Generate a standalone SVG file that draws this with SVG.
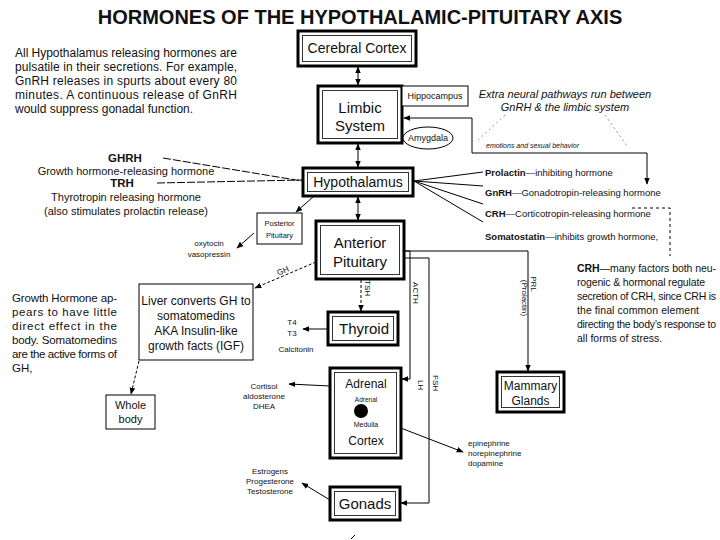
<svg xmlns="http://www.w3.org/2000/svg" width="720" height="540" viewBox="0 0 720 540">
<defs>
<marker id="ah" viewBox="0 0 10 10" refX="9" refY="5" markerWidth="7" markerHeight="7" markerUnits="userSpaceOnUse" orient="auto-start-reverse"><path d="M0,1 L10,5 L0,9 z" fill="#000"/></marker>
<style>
text{font-family:"Liberation Sans",Arial,sans-serif;fill:#111}
.b{font-weight:bold}
.it{font-style:italic}
.m{text-anchor:middle}
.o{fill:#fff;stroke:#000;stroke-width:3}
.i{fill:none;stroke:#333;stroke-width:1}
.s{fill:#fff;stroke:#000;stroke-width:1}
.c{fill:none;stroke:#000;stroke-width:1}
.d{fill:none;stroke:#000;stroke-width:1;stroke-dasharray:3 2}
.dt{fill:none;stroke:#777;stroke-width:0.8;stroke-dasharray:2 3}
.rl{text-anchor:middle;dominant-baseline:central;font-size:8px}
</style>
</defs>
<rect width="720" height="540" fill="#fff"/>
<text x="360" y="24" class="b m" font-size="20">HORMONES OF THE HYPOTHALAMIC-PITUITARY AXIS</text>

<g id="intro" font-size="12">
<text x="15" y="57" font-size="12" textLength="222" lengthAdjust="spacing">All Hypothalamus releasing hormones are</text>
<text x="15" y="71" font-size="12" textLength="222" lengthAdjust="spacing">pulsatile in their secretions.  For example,</text>
<text x="15" y="85" font-size="12" textLength="222" lengthAdjust="spacing">GnRH releases in spurts about every 80</text>
<text x="15" y="99" font-size="12" textLength="222" lengthAdjust="spacing">minutes.  A continuous release of GnRH</text>
<text x="15" y="113" font-size="12">would suppress gonadal function.</text>
</g>

<g id="connectors">
<line x1="358" y1="67" x2="358" y2="85" class="c" marker-start="url(#ah)" marker-end="url(#ah)"/>
<line x1="358" y1="144" x2="358" y2="167" class="c" marker-start="url(#ah)" marker-end="url(#ah)"/>
<line x1="358" y1="197" x2="358" y2="220" class="c" marker-start="url(#ah)" marker-end="url(#ah)"/>
<path d="M647,184 V153 H472 V118 H404" class="c" marker-start="url(#ah)" marker-end="url(#ah)"/>
<line x1="505" y1="115" x2="476" y2="142" class="dt"/>
<line x1="605" y1="115" x2="627" y2="146" class="dt"/>
<line x1="163" y1="158" x2="302" y2="181" class="c" stroke-dasharray="8 2"/>
<line x1="157" y1="183" x2="302" y2="180" class="c" stroke-dasharray="8 2"/>
<line x1="414" y1="181" x2="483" y2="172" class="c"/>
<line x1="414" y1="181" x2="483" y2="186" class="c"/>
<line x1="414" y1="181" x2="483" y2="204" class="c"/>
<line x1="414" y1="181" x2="483" y2="222" class="c"/>
<path d="M632,208 H670 V256" class="c" stroke-dasharray="3 3"/>
<line x1="313" y1="197" x2="296" y2="212" class="c" marker-end="url(#ah)"/>
<line x1="254" y1="233" x2="237" y2="248" class="c" marker-end="url(#ah)"/>
<line x1="316" y1="262" x2="255" y2="288" class="d" marker-end="url(#ah)"/>
<line x1="139" y1="361" x2="131" y2="394" class="d" marker-end="url(#ah)"/>
<line x1="361" y1="280" x2="361" y2="311" class="d" marker-end="url(#ah)"/>
<line x1="328" y1="329" x2="303" y2="329" class="c" marker-end="url(#ah)"/>
<path d="M405,251 H410 V379 H402" class="c" marker-end="url(#ah)"/>
<path d="M405,251 H528 V371" class="c" marker-end="url(#ah)"/>
<path d="M405,258 H429 V503 H401" class="c" marker-end="url(#ah)"/>
<line x1="330" y1="386" x2="289" y2="384" class="c" marker-end="url(#ah)"/>
<line x1="367" y1="415" x2="463" y2="452" class="c" marker-end="url(#ah)"/>
<line x1="330" y1="500" x2="302" y2="483" class="c" marker-end="url(#ah)"/>
<line x1="351" y1="539" x2="355" y2="535" class="c" stroke="#888"/>
<text transform="translate(283,271) rotate(-25)" class="rl">GH</text>
<text transform="translate(367,288) rotate(90)" class="rl">TSH</text>
<text transform="translate(415,293) rotate(90)" class="rl">ACTH</text>
<text transform="translate(420,385) rotate(90)" class="rl">LH</text>
<text transform="translate(435,383) rotate(90)" class="rl">FSH</text>
<text transform="translate(533,284) rotate(90)" class="rl" font-size="7">PRL</text>
<text transform="translate(524,298) rotate(90)" class="rl" font-size="7">(Prolactin)</text>
</g>

<g id="cerebral-cortex">
<rect x="298" y="31" width="118" height="35" class="o"/>
<rect x="302.5" y="35.5" width="109" height="26" class="i"/>
<text x="357" y="53" class="m" font-size="14">Cerebral Cortex</text>
</g>

<g id="limbic-system">
<rect x="318" y="86" width="84" height="57" class="o"/>
<rect x="322.5" y="90.5" width="75" height="48" class="i"/>
<text x="360" y="113" class="m" font-size="15">Limbic</text>
<text x="360" y="131" class="m" font-size="15">System</text>
</g>

<g id="hippocampus">
<rect x="402" y="86" width="66" height="20" class="s"/>
<text x="435" y="99" class="m" font-size="9">Hippocampus</text>
</g>

<g id="amygdala">
<ellipse cx="428" cy="138" rx="25" ry="11" class="s"/>
<text x="428" y="141" class="m" font-size="9">Amygdala</text>
</g>

<g id="extra-neural">
<text x="565" y="98" class="m it" font-size="11">Extra neural pathways run between</text>
<text x="565" y="111" class="m it" font-size="11">GnRH &amp; the limbic system</text>
<text x="486" y="148" class="it" font-size="7">emotions and sexual behavior</text>
</g>

<g id="hypothalamus">
<rect x="303" y="168" width="110" height="28" class="o"/>
<rect x="307.5" y="172.5" width="101" height="19" class="i"/>
<text x="358" y="187" class="m" font-size="14">Hypothalamus</text>
</g>

<g id="ghrh-trh" font-size="11">
<text x="125" y="162" class="m b" font-size="11.5">GHRH</text>
<text x="126" y="175" class="m" font-size="11">Growth hormone-releasing hormone</text>
<text x="122" y="187" class="m b" font-size="11.5">TRH</text>
<text x="126" y="201" class="m" font-size="11">Thyrotropin releasing hormone</text>
<text x="126" y="215" class="m" font-size="11">(also stimulates prolactin release)</text>
</g>

<g id="hypothalamic-hormones" font-size="9.5">
<text x="485" y="176" font-size="9.5"><tspan class="b">Prolactin</tspan>—inhibiting hormone</text>
<text x="485" y="196" font-size="9.5"><tspan class="b">GnRH</tspan>—Gonadotropin-releasing hormone</text>
<text x="485" y="217" font-size="9.5"><tspan class="b">CRH</tspan>—Corticotropin-releasing hormone</text>
<text x="485" y="240" font-size="9.5"><tspan class="b">Somatostatin</tspan>—inhibits growth hormone,</text>
</g>

<g id="crh-note" font-size="10">
<text x="577" y="272" font-size="10.5" textLength="139" lengthAdjust="spacing"><tspan class="b">CRH</tspan>—many factors both   neu-</text>
<text x="577" y="286" font-size="10.5" textLength="128" lengthAdjust="spacing">rogenic &amp; hormonal  regulate</text>
<text x="577" y="300" font-size="10.5" textLength="139" lengthAdjust="spacing">secretion of CRH, since CRH is</text>
<text x="577" y="314" font-size="10.5" textLength="122" lengthAdjust="spacing">the final     common element</text>
<text x="577" y="328" font-size="10.5" textLength="139" lengthAdjust="spacing">directing the body’s response to</text>
<text x="577" y="342" font-size="10.5">all forms of stress.</text>
</g>

<g id="posterior-pituitary">
<rect x="257" y="213" width="45" height="31" class="s"/>
<text x="279.5" y="226" class="m" font-size="7.5">Posterior</text>
<text x="279.5" y="238" class="m" font-size="7.5">Pituitary</text>
</g>

<g id="oxytocin">
<text x="209" y="246" class="m" font-size="8">oxytocin</text>
<text x="209" y="257" class="m" font-size="8">vasopressin</text>
</g>

<g id="anterior-pituitary">
<rect x="316" y="221" width="88" height="58" class="o"/>
<rect x="320.5" y="225.5" width="79" height="49" class="i"/>
<text x="360" y="248" class="m" font-size="15">Anterior</text>
<text x="360" y="267" class="m" font-size="15">Pituitary</text>
</g>

<g id="gh-note" font-size="11.5">
<text x="12" y="302" font-size="11.5" textLength="105" lengthAdjust="spacing">Growth Hormone ap-</text>
<text x="12" y="316" font-size="11.5" textLength="105" lengthAdjust="spacing">pears to have little</text>
<text x="12" y="330" font-size="11.5" textLength="105" lengthAdjust="spacing">direct effect in the</text>
<text x="12" y="344" font-size="11.5" textLength="105" lengthAdjust="spacing">body.  Somatomedins</text>
<text x="12" y="358" font-size="11.5" textLength="105" lengthAdjust="spacing">are the active forms of</text>
<text x="12" y="372" font-size="11.5">GH,</text>
</g>

<g id="liver">
<rect x="139" y="284" width="114" height="76" class="s"/>
<text x="196" y="305" class="m" font-size="12">Liver converts GH to</text>
<text x="196" y="320" class="m" font-size="12">somatomedins</text>
<text x="196" y="335" class="m" font-size="12">AKA Insulin-like</text>
<text x="196" y="350" class="m" font-size="12">growth facts (IGF)</text>
</g>

<g id="whole-body">
<rect x="106" y="395" width="49" height="34" class="s"/>
<text x="130.5" y="409" class="m" font-size="11">Whole</text>
<text x="130.5" y="423" class="m" font-size="11">body</text>
</g>

<g id="thyroid">
<rect x="328" y="312" width="70" height="33" class="o"/>
<rect x="332.5" y="316.5" width="61" height="24" class="i"/>
<text x="364" y="334" class="m" font-size="15">Thyroid</text>
</g>

<g id="thyroid-hormones">
<text x="292" y="325" class="m" font-size="8">T4</text>
<text x="292" y="336" class="m" font-size="8">T3</text>
<text x="296" y="352" class="m" font-size="8">Calcitonin</text>
</g>

<g id="adrenal">
<rect x="330" y="368" width="71" height="90" class="o"/>
<rect x="334.5" y="372.5" width="62" height="81" class="i"/>
<text x="366" y="388" class="m" font-size="12">Adrenal</text>
<text x="366" y="402" class="m" font-size="6.5">Adrenal</text>
<circle cx="361" cy="411" r="7" fill="#000"/>
<text x="366" y="427" class="m" font-size="7">Medulla</text>
<text x="366" y="445" class="m" font-size="12">Cortex</text>
</g>

<g id="adrenal-cortex-hormones">
<text x="264" y="389" class="m" font-size="8">Cortisol</text>
<text x="264" y="399" class="m" font-size="8">aldosterone</text>
<text x="264" y="409" class="m" font-size="8">DHEA</text>
</g>

<g id="catecholamines">
<text x="468" y="446" font-size="8">epinephrine</text>
<text x="468" y="456" font-size="8">norepinephrine</text>
<text x="468" y="466" font-size="8">dopamine</text>
</g>

<g id="gonads">
<rect x="330" y="487" width="70" height="33" class="o"/>
<rect x="334.5" y="491.5" width="61" height="24" class="i"/>
<text x="365" y="509" class="m" font-size="15">Gonads</text>
</g>

<g id="sex-hormones">
<text x="270" y="474" class="m" font-size="8">Estrogens</text>
<text x="270" y="484" class="m" font-size="8">Progesterone</text>
<text x="270" y="494" class="m" font-size="8">Testosterone</text>
</g>

<g id="mammary-glands">
<rect x="497" y="372" width="67" height="40" class="o"/>
<rect x="501.5" y="376.5" width="58" height="31" class="i"/>
<text x="530.5" y="390" class="m" font-size="12">Mammary</text>
<text x="530.5" y="405" class="m" font-size="12">Glands</text>
</g>
</svg>
